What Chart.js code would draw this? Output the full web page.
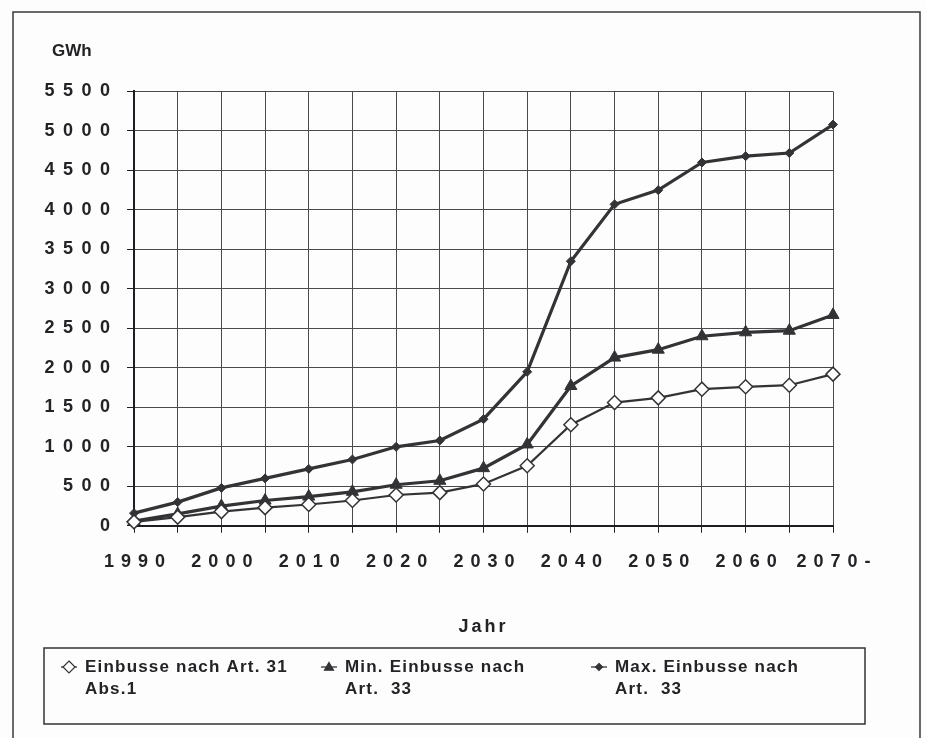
<!DOCTYPE html>
<html>
<head>
<meta charset="utf-8">
<script src="https://cdn.jsdelivr.net/npm/chart.js@4/dist/chart.umd.min.js"></script>
<style>
html,body{margin:0;padding:0;background:#fff;}
#wrap{width:926px;height:738px;position:relative;overflow:hidden;}
canvas{display:block;}
</style>
</head>
<body>
<div id="wrap"><canvas id="c" width="926" height="738"></canvas></div>
<script>
// ---- data ----
const years = ['1990','1995','2000','2005','2010','2015','2020','2025','2030','2035','2040','2045','2050','2055','2060','2065','2070'];
const xTickLabels = ['1990','','2000','','2010','','2020','','2030','','2040','','2050','','2060','','2070-'];
const yMin = 0;
const yMax = 5500;
const yStep = 500;
const yAxisTitle = 'GWh';
const xAxisTitle = 'Jahr';
const seriesNames = [
  ['Einbusse nach Art. 31', 'Abs.1'],
  ['Min. Einbusse nach', 'Art.  33'],
  ['Max. Einbusse nach', 'Art.  33']
];
const einbusseArt31 = [50, 110, 180, 230, 270, 320, 390, 420, 530, 760, 1280, 1560, 1620, 1730, 1760, 1780, 1920];
const minEinbusseArt33 = [60, 150, 250, 320, 370, 430, 520, 570, 730, 1030, 1770, 2130, 2230, 2400, 2450, 2470, 2670];
const maxEinbusseArt33 = [160, 300, 480, 600, 720, 840, 1000, 1080, 1350, 1950, 3350, 4070, 4250, 4600, 4680, 4720, 5080];

// ---- styling ----
const FONT = "'Liberation Sans', Arial, Helvetica, sans-serif";
const INK = '#232326';
const LINE = '#333336';

const framePlugin = {
  id: 'frame',
  beforeDraw(chart) {
    const c = chart.ctx;
    c.save();
    c.fillStyle = '#fdfdfe';
    c.fillRect(0, 0, chart.width, chart.height);
    c.strokeStyle = '#3a3a3e';
    c.lineWidth = 1.5;
    c.beginPath();
    c.moveTo(13, chart.height + 5);
    c.lineTo(13, 12);
    c.lineTo(920, 12);
    c.lineTo(920, chart.height + 5);
    c.stroke();
    c.restore();
  }
};

const spacingPlugin = {
  id: 'spacing',
  afterLayout(chart) {
    ['x', 'y'].forEach(id => {
      const s = chart.scales[id];
      if (!s || s._lsWrapped) return;
      s._lsWrapped = true;
      s._computeLabelArea = () => undefined;
      const ls = id === 'y' ? '8.5px' : '7px';
      const origL = s.drawLabels.bind(s);
      s.drawLabels = function (area) {
        const c = this.ctx;
        c.letterSpacing = ls;
        origL(area);
        c.letterSpacing = '0px';
      };
      const origT = s.drawTitle.bind(s);
      s.drawTitle = function () {
        const c = this.ctx;
        c.letterSpacing = '3px';
        origT();
        c.letterSpacing = '0px';
      };
    });
  }
};

const legendPlugin = {
  id: 'boxLegend',
  afterDraw(chart) {
    const c = chart.ctx;
    c.save();
    const bx = 44, by = 648, bw = 821, bh = 76;
    c.strokeStyle = '#333336';
    c.lineWidth = 1.5;
    c.strokeRect(bx, by, bw, bh);
    const itemX = [62, 322, 592];
    c.textBaseline = 'middle';
    c.textAlign = 'left';
    chart.data.datasets.forEach((ds, i) => {
      const x = itemX[i];
      const y = 667;
      c.strokeStyle = ds.borderColor;
      c.lineWidth = 1.3;
      c.beginPath();
      c.moveTo(x - 1, y);
      c.lineTo(x + 15, y);
      c.stroke();
      const cx = x + 7;
      c.beginPath();
      if (ds.pointStyle === 'triangle') {
        const r = 4.5;
        c.moveTo(cx, y - r);
        c.lineTo(cx + r, y + r * 0.7);
        c.lineTo(cx - r, y + r * 0.7);
        c.closePath();
      } else {
        const r = ds.legendMarkerRadius;
        c.moveTo(cx, y - r);
        c.lineTo(cx + r, y);
        c.lineTo(cx, y + r);
        c.lineTo(cx - r, y);
        c.closePath();
      }
      c.fillStyle = ds.pointBackgroundColor;
      c.fill();
      c.strokeStyle = ds.pointBorderColor;
      c.lineWidth = 1.2;
      c.stroke();
      c.fillStyle = INK;
      c.font = 'bold 17px ' + FONT;
      c.letterSpacing = '1.2px';
      ds.label.forEach((t, k) => c.fillText(t, x + 23, y + k * 22));
      c.letterSpacing = '0px';
    });
    c.restore();
  }
};

new Chart(document.getElementById('c'), {
  type: 'line',
  data: {
    labels: years,
    datasets: [
      {
        label: seriesNames[0],
        data: einbusseArt31,
        borderColor: LINE,
        borderWidth: 2.2,
        pointStyle: 'rectRot',
        pointRadius: 7,
        pointBackgroundColor: '#ffffff',
        pointBorderColor: LINE,
        pointBorderWidth: 1.5,
        legendMarkerRadius: 6,
        tension: 0,
        clip: false
      },
      {
        label: seriesNames[1],
        data: minEinbusseArt33,
        borderColor: LINE,
        borderWidth: 3.2,
        pointStyle: 'triangle',
        pointRadius: 7,
        pointBackgroundColor: LINE,
        pointBorderColor: LINE,
        pointBorderWidth: 1,
        legendMarkerRadius: 5,
        tension: 0,
        clip: false
      },
      {
        label: seriesNames[2],
        data: maxEinbusseArt33,
        borderColor: LINE,
        borderWidth: 3.2,
        pointStyle: 'rectRot',
        pointRadius: 4.5,
        pointBackgroundColor: LINE,
        pointBorderColor: LINE,
        pointBorderWidth: 1,
        legendMarkerRadius: 3.5,
        tension: 0,
        clip: false
      }
    ]
  },
  options: {
    responsive: false,
    animation: false,
    devicePixelRatio: 1,
    layout: { padding: { left: 52, right: 93, top: 0, bottom: 100 } },
    plugins: {
      legend: { display: false },
      tooltip: { enabled: false },
      title: {
        display: true,
        text: yAxisTitle,
        align: 'start',
        color: INK,
        font: { family: FONT, size: 17, weight: 'bold' },
        padding: { top: 41, bottom: 30 }
      }
    },
    scales: {
      x: {
        type: 'category',
        offset: false,
        grid: { color: '#4a4a4e', lineWidth: 1, tickLength: 7, drawTicks: true, tickColor: '#222' },
        border: { color: '#1e1e22', width: 2 },
        ticks: {
          autoSkip: false,
          maxRotation: 0,
          minRotation: 0,
          padding: 18,
          labelOffset: 4,
          color: INK,
          font: { family: FONT, size: 18, weight: 'bold' },
          callback: (v, i) => xTickLabels[i]
        },
        title: {
          display: true,
          text: xAxisTitle,
          color: INK,
          font: { family: FONT, size: 18, weight: 'bold' },
          padding: { top: 26, bottom: 0 }
        }
      },
      y: {
        min: yMin,
        max: yMax,
        grid: { color: '#4a4a4e', lineWidth: 1, tickLength: 7, drawTicks: true, tickColor: '#222' },
        border: { color: '#1e1e22', width: 2 },
        ticks: {
          stepSize: yStep,
          padding: 8.5,
          color: INK,
          font: { family: FONT, size: 18, weight: 'bold' },
          callback: (v) => String(v)
        },
        afterFit(scale) { scale.width = 82; }
      }
    }
  },
  plugins: [framePlugin, spacingPlugin, legendPlugin]
});
</script>
</body>
</html>
